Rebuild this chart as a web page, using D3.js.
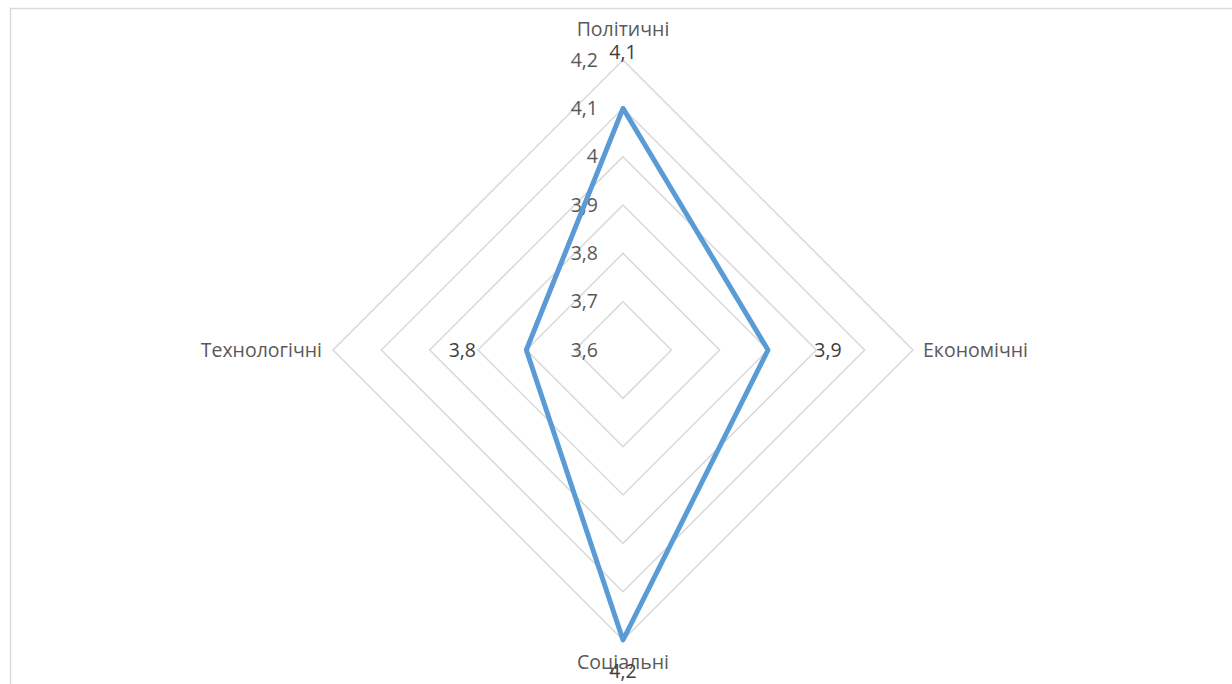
<!DOCTYPE html>
<html>
<head>
<meta charset="utf-8">
<script src="https://cdn.jsdelivr.net/npm/d3@7"></script>
<style>
  body { margin: 0; background: #fff; }
  text { font-family: "Open Sans", "Noto Sans", sans-serif; fill: #595959; }
</style>
</head>
<body>
<div id="plot"></div>
<script>
var width = 1232;
var height = 684;

// data
var categories = ['Політичні', 'Економічні', 'Соціальні', 'Технологічні'];
var values = [4.1, 3.9, 4.2, 3.8];
var ticks = [3.6, 3.7, 3.8, 3.9, 4.0, 4.1, 4.2];

var cx = 623;
var cy = 350;
var radius = 290;
var fsize = 19.5;

var locale = d3.formatLocale({decimal: ',', thousands: ' ', grouping: [3], currency: ['', '']});
var fmt = locale.format('.2~r');

var canvas = d3.select('#plot')
    .append('svg')
    .attr('width', width)
    .attr('height', height);

// chart frame (runs off the right and bottom of the picture)
canvas.append('rect')
    .attr('x', 10.5)
    .attr('y', 8.5)
    .attr('width', width + 20)
    .attr('height', height + 20)
    .attr('fill', 'none')
    .attr('stroke', '#d9d9d9')
    .attr('stroke-width', 1.5);

var r_scale = d3.scaleLinear()
    .domain([3.6, 4.2])
    .range([0, radius]);

var angle = function(i) { return i * 2 * Math.PI / categories.length; };
var px = function(i, v) { return cx + r_scale(v) * Math.sin(angle(i)); };
var py = function(i, v) { return cy - r_scale(v) * Math.cos(angle(i)); };

var g = canvas.append('g');

// grid rings
var line_gen = d3.line().curve(d3.curveLinearClosed);
g.selectAll('path.ring')
    .data(ticks.slice(1))
    .enter()
    .append('path')
    .attr('class', 'ring')
    .attr('d', function(t) {
        return line_gen(categories.map(function(c, i) { return [px(i, t), py(i, t)]; }));
    })
    .attr('fill', 'none')
    .attr('stroke', '#d9d9d9')
    .attr('stroke-width', 1.5);

// tick labels
g.selectAll('text.tick')
    .data(ticks)
    .enter()
    .append('text')
    .attr('class', 'tick')
    .attr('x', cx - 25)
    .attr('y', function(t) { return cy - r_scale(t); })
    .attr('dy', '0.35em')
    .attr('text-anchor', 'end')
    .attr('font-size', fsize)
    .text(function(t) { return fmt(t); });

// series
g.append('path')
    .attr('d', line_gen(values.map(function(v, i) { return [px(i, v), py(i, v)]; })))
    .attr('fill', 'none')
    .attr('stroke', '#5b9bd5')
    .attr('stroke-width', 5)
    .attr('stroke-linejoin', 'round');

// category labels
var cat_pos = [[0, -radius - 31], [300, 0], [0, radius + 22], [-301, 0]];
var cat_anchor = ['middle', 'start', 'middle', 'end'];
g.selectAll('text.cat')
    .data(categories)
    .enter()
    .append('text')
    .attr('class', 'cat')
    .attr('x', function(d, i) { return cx + cat_pos[i][0]; })
    .attr('y', function(d, i) { return cy + cat_pos[i][1]; })
    .attr('dy', '0.35em')
    .attr('text-anchor', function(d, i) { return cat_anchor[i]; })
    .attr('font-size', fsize)
    .text(function(d) { return d; });

// data labels (Excel puts them a bit off the points)
var lab_shift = [[0, -56], [60, 0], [0, 31], [-64, 0]];
g.selectAll('text.val')
    .data(values)
    .enter()
    .append('text')
    .attr('class', 'val')
    .attr('x', function(v, i) { return px(i, v) + lab_shift[i][0]; })
    .attr('y', function(v, i) { return py(i, v) + lab_shift[i][1]; })
    .attr('dy', '0.35em')
    .attr('text-anchor', 'middle')
    .attr('font-size', fsize)
    .style('fill', '#404040')
    .text(function(v) { return fmt(v); });
</script>
</body>
</html>
